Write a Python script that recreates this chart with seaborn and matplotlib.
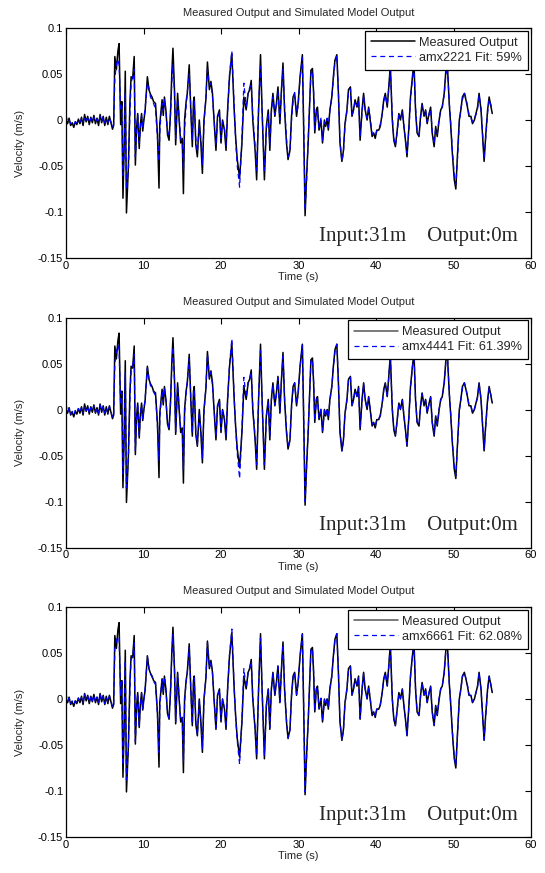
import matplotlib
matplotlib.use("Agg")
import matplotlib.pyplot as plt
import seaborn as sns
import pandas as pd

# time (s) of the points
time = [0.0, 0.2, 0.4, 0.6, 0.8, 1.0, 1.2, 1.4, 1.6, 1.8,
        2.0, 2.2, 2.4, 2.6, 2.8, 3.0, 3.2, 3.4, 3.6, 3.8,
        4.0, 4.2, 4.4, 4.6, 4.8, 5.0, 5.2, 5.4, 5.6, 5.8,
        6.0, 6.15, 6.3, 6.5, 6.7, 6.85, 7.05, 7.2, 7.35, 7.5,
        7.65, 7.8, 8.05, 8.25, 8.4, 8.6, 8.8, 8.95, 9.1, 9.25,
        9.45, 9.6, 9.75, 9.9, 10.05, 10.2, 10.5, 10.7, 10.9, 11.1,
        11.3, 11.55, 11.8, 12.0, 12.1, 12.25, 12.4, 12.55, 12.7, 12.9,
        13.1, 13.3, 13.5, 13.65, 13.8, 14.0, 14.15, 14.4, 14.6, 14.8,
        15.0, 15.15, 15.3, 15.5, 15.65, 15.9, 16.1, 16.3, 16.45, 16.55,
        16.75, 16.95, 17.2, 17.4, 17.6, 17.8, 18.05, 18.25, 18.5, 18.7,
        18.9, 19.1, 19.35, 19.55, 19.8, 20.0, 20.2, 20.45, 20.65, 20.85,
        21.1, 21.4, 21.7, 21.9, 22.1, 22.4, 22.7, 22.95, 23.25, 23.5,
        23.7, 23.9, 24.1, 24.4, 24.6, 24.85, 25.1, 25.3, 25.6, 25.85,
        26.1, 26.3, 26.5, 26.7, 26.95, 27.15, 27.35, 27.6, 27.8, 28.0,
        28.2, 28.45, 28.65, 28.9, 29.1, 29.3, 29.5, 29.75, 29.95, 30.2,
        30.5, 30.7, 30.85, 31.05, 31.25, 31.6, 31.8, 31.95, 32.1, 32.3,
        32.45, 32.65, 32.9, 33.1, 33.35, 33.5, 33.7, 33.85, 34.05, 34.3,
        34.5, 34.7, 34.95, 35.15, 35.35, 35.6, 35.8, 36.0, 36.25, 36.45,
        36.7, 36.9, 37.1, 37.3, 37.55, 37.75, 37.95, 38.2, 38.4, 38.6,
        38.85, 39.05, 39.25, 39.5, 39.7, 39.9, 40.1, 40.35, 40.55, 40.8,
        41.0, 41.2, 41.45, 41.65, 41.85, 42.1, 42.3, 42.5, 42.7, 42.95,
        43.15, 43.4, 43.6, 43.8, 44.0, 44.25, 44.45, 44.7, 44.9, 45.1,
        45.3, 45.55, 45.75, 45.95, 46.2, 46.4, 46.6, 46.85, 47.05, 47.25,
        47.5, 47.7, 47.9, 48.15, 48.35, 48.55, 48.8, 49.0, 49.2, 49.45,
        49.65, 49.85, 50.1, 50.3, 50.5, 50.75, 50.95, 51.15, 51.4, 51.6,
        51.8, 52.0, 52.25, 52.45, 52.7, 52.9, 53.1, 53.3, 53.55, 53.75,
        53.95, 54.15, 54.4, 54.6, 54.85, 55.0]

measured = [0.000, -0.004, 0.002, -0.006, -0.003, -0.008, -0.002, -0.005, 0.001, -0.004,
            0.003, -0.006, 0.006, -0.002, 0.004, -0.005, 0.003, -0.003, 0.005, -0.004,
            0.002, -0.006, 0.006, -0.003, 0.004, -0.006, 0.003, -0.005, 0.004, -0.003,
            -0.010, -0.006, 0.069, 0.055, 0.075, 0.083, -0.005, 0.020, -0.085, -0.030,
            0.053, -0.101, -0.051, 0.020, 0.047, 0.045, 0.069, -0.049, -0.010, 0.007,
            -0.031, -0.005, 0.007, -0.012, 0.000, 0.009, 0.047, 0.033, 0.028, 0.025,
            0.020, 0.018, -0.015, -0.074, -0.004, 0.009, 0.022, 0.005, 0.025, 0.010,
            -0.016, -0.022, 0.011, 0.050, 0.078, 0.032, -0.027, 0.029, 0.000, -0.025,
            -0.020, -0.080, 0.000, 0.020, 0.029, 0.060, 0.011, -0.029, 0.020, 0.025,
            -0.027, -0.040, 0.000, -0.025, -0.058, 0.000, 0.022, 0.063, 0.033, 0.042,
            0.029, 0.000, -0.033, 0.004, 0.011, -0.025, 0.000, -0.011, -0.033, 0.011,
            0.047, 0.072, 0.011, -0.020, -0.043, -0.063, -0.025, 0.025, 0.011, 0.029,
            0.033, 0.043, 0.000, -0.033, -0.065, 0.011, 0.071, 0.011, -0.065, -0.007,
            0.011, -0.033, 0.011, 0.029, 0.004, 0.018, 0.036, -0.004, 0.033, 0.062,
            0.011, -0.025, -0.043, -0.033, 0.004, 0.025, 0.029, 0.004, 0.018, 0.047,
            0.071, -0.025, -0.104, -0.060, -0.025, 0.054, 0.056, 0.029, -0.014, 0.011,
            0.014, -0.011, 0.000, -0.025, 0.000, -0.007, 0.000, -0.011, 0.011, 0.025,
            0.047, 0.065, 0.071, 0.029, -0.025, -0.045, -0.033, -0.004, 0.011, 0.033,
            0.036, 0.004, 0.011, 0.022, 0.014, 0.025, -0.022, 0.011, 0.029, 0.011,
            0.000, 0.014, 0.000, -0.018, -0.014, -0.020, -0.011, -0.011, -0.007, 0.007,
            0.022, 0.029, 0.014, 0.036, 0.060, 0.000, -0.022, -0.029, -0.014, 0.007,
            0.000, 0.011, -0.007, -0.022, -0.040, -0.007, 0.025, 0.047, 0.062, 0.011,
            -0.014, -0.018, 0.004, 0.018, 0.004, 0.011, -0.004, 0.007, 0.014, -0.014,
            -0.029, -0.007, -0.018, 0.000, 0.011, 0.014, 0.029, 0.052, 0.062, 0.018,
            -0.007, -0.036, -0.065, -0.075, -0.040, 0.000, 0.011, 0.025, 0.029, 0.022,
            0.014, 0.004, 0.004, -0.004, 0.000, 0.007, 0.014, 0.029, 0.011, -0.018,
            -0.045, -0.018, 0.011, 0.025, 0.014, 0.007]

sim_2221 = [0.005, -0.002, 0.000, -0.004, -0.003, -0.005, -0.002, -0.003, 0.000, -0.002,
            0.001, -0.003, 0.003, 0.000, 0.002, -0.003, 0.002, -0.002, 0.003, -0.002,
            0.001, -0.003, 0.004, -0.001, 0.003, -0.003, 0.002, -0.003, 0.002, -0.002,
            -0.008, -0.004, 0.045, 0.060, 0.066, 0.060, 0.010, 0.015, -0.060, -0.040,
            0.030, -0.075, -0.055, 0.010, 0.040, 0.048, 0.055, -0.040, -0.015, 0.005,
            -0.025, -0.008, 0.004, -0.008, 0.002, 0.012, 0.040, 0.035, 0.025, 0.022,
            0.018, 0.012, -0.020, -0.045, -0.015, 0.005, 0.018, 0.010, 0.022, 0.008,
            -0.012, -0.018, 0.008, 0.040, 0.060, 0.030, -0.020, 0.022, 0.003, -0.020,
            -0.025, -0.055, -0.010, 0.015, 0.030, 0.050, 0.015, -0.022, 0.012, 0.020,
            -0.020, -0.035, -0.005, -0.020, -0.048, -0.005, 0.025, 0.055, 0.038, 0.040,
            0.025, 0.002, -0.028, 0.000, 0.008, -0.020, -0.002, -0.010, -0.028, 0.008,
            0.050, 0.075, 0.015, -0.025, -0.050, -0.073, -0.020, 0.040, 0.015, 0.030,
            0.035, 0.038, 0.005, -0.028, -0.055, 0.015, 0.058, 0.010, -0.055, -0.010,
            0.008, -0.028, 0.008, 0.025, 0.006, 0.015, 0.032, 0.000, 0.030, 0.055,
            0.015, -0.020, -0.040, -0.035, 0.000, 0.020, 0.030, 0.008, 0.015, 0.045,
            0.068, -0.020, -0.098, -0.065, -0.020, 0.050, 0.054, 0.030, -0.010, 0.008,
            0.010, -0.008, 0.002, -0.022, -0.002, -0.005, 0.002, -0.008, 0.010, 0.025,
            0.045, 0.062, 0.070, 0.030, -0.022, -0.045, -0.035, -0.006, 0.010, 0.030,
            0.034, 0.006, 0.010, 0.020, 0.016, 0.022, -0.018, 0.008, 0.027, 0.012,
            0.002, 0.012, 0.002, -0.015, -0.016, -0.018, -0.012, -0.009, -0.005, 0.006,
            0.020, 0.027, 0.016, 0.034, 0.056, 0.004, -0.020, -0.028, -0.016, 0.005,
            0.002, 0.009, -0.006, -0.020, -0.036, -0.010, 0.022, 0.045, 0.058, 0.014,
            -0.012, -0.016, 0.002, 0.016, 0.006, 0.010, -0.002, 0.006, 0.012, -0.012,
            -0.026, -0.010, -0.015, 0.002, 0.010, 0.015, 0.027, 0.048, 0.058, 0.020,
            -0.005, -0.032, -0.060, -0.070, -0.045, -0.004, 0.012, 0.022, 0.030, 0.024,
            0.016, 0.006, 0.002, -0.002, 0.002, 0.006, 0.012, 0.027, 0.013, -0.015,
            -0.042, -0.020, 0.008, 0.022, 0.016, 0.010]

sim_4441 = [0.006, -0.003, 0.001, -0.005, -0.002, -0.006, -0.001, -0.004, 0.001, -0.003,
            0.002, -0.004, 0.004, -0.001, 0.003, -0.004, 0.002, -0.002, 0.004, -0.003,
            0.001, -0.004, 0.005, -0.002, 0.003, -0.004, 0.002, -0.004, 0.003, -0.002,
            -0.009, -0.005, 0.050, 0.062, 0.070, 0.065, 0.005, 0.018, -0.070, -0.035,
            0.040, -0.085, -0.052, 0.012, 0.042, 0.046, 0.060, -0.045, -0.012, 0.006,
            -0.028, -0.006, 0.005, -0.010, 0.001, 0.010, 0.045, 0.034, 0.026, 0.024,
            0.019, 0.015, -0.018, -0.055, -0.010, 0.007, 0.020, 0.008, 0.024, 0.009,
            -0.014, -0.020, 0.010, 0.045, 0.068, 0.031, -0.024, 0.026, 0.002, -0.022,
            -0.022, -0.065, -0.005, 0.018, 0.030, 0.055, 0.013, -0.026, 0.016, 0.022,
            -0.024, -0.038, -0.003, -0.022, -0.053, -0.003, 0.024, 0.060, 0.035, 0.041,
            0.027, 0.001, -0.030, 0.002, 0.010, -0.022, -0.001, -0.011, -0.030, 0.010,
            0.049, 0.077, 0.013, -0.022, -0.048, -0.075, -0.022, 0.035, 0.013, 0.030,
            0.034, 0.040, 0.003, -0.030, -0.060, 0.013, 0.064, 0.011, -0.060, -0.008,
            0.010, -0.030, 0.010, 0.027, 0.005, 0.016, 0.034, -0.002, 0.031, 0.058,
            0.013, -0.022, -0.041, -0.034, 0.002, 0.022, 0.029, 0.006, 0.016, 0.046,
            0.070, -0.022, -0.100, -0.062, -0.022, 0.052, 0.055, 0.030, -0.012, 0.010,
            0.012, -0.009, 0.001, -0.023, -0.001, -0.006, 0.001, -0.009, 0.010, 0.025,
            0.046, 0.063, 0.071, 0.030, -0.023, -0.045, -0.034, -0.005, 0.010, 0.031,
            0.035, 0.005, 0.010, 0.021, 0.015, 0.023, -0.020, 0.009, 0.028, 0.011,
            0.001, 0.013, 0.001, -0.016, -0.015, -0.019, -0.011, -0.010, -0.006, 0.006,
            0.021, 0.028, 0.015, 0.035, 0.058, 0.002, -0.021, -0.028, -0.015, 0.006,
            0.001, 0.010, -0.006, -0.021, -0.038, -0.008, 0.023, 0.046, 0.060, 0.012,
            -0.013, -0.017, 0.003, 0.017, 0.005, 0.010, -0.003, 0.006, 0.013, -0.013,
            -0.027, -0.008, -0.016, 0.001, 0.010, 0.014, 0.028, 0.050, 0.060, 0.019,
            -0.006, -0.034, -0.062, -0.072, -0.042, -0.002, 0.011, 0.023, 0.029, 0.023,
            0.015, 0.005, 0.003, -0.003, 0.001, 0.006, 0.013, 0.028, 0.012, -0.016,
            -0.043, -0.019, 0.009, 0.023, 0.015, 0.008]

sim_6661 = [0.006, -0.003, 0.001, -0.005, -0.002, -0.006, -0.002, -0.004, 0.001, -0.003,
            0.002, -0.005, 0.005, -0.001, 0.003, -0.004, 0.003, -0.002, 0.004, -0.003,
            0.002, -0.005, 0.005, -0.002, 0.003, -0.005, 0.002, -0.004, 0.003, -0.002,
            -0.009, -0.005, 0.055, 0.063, 0.068, 0.066, 0.004, 0.019, -0.072, -0.034,
            0.042, -0.088, -0.053, 0.013, 0.043, 0.047, 0.061, -0.046, -0.011, 0.006,
            -0.029, -0.006, 0.006, -0.011, 0.000, 0.010, 0.046, 0.034, 0.027, 0.024,
            0.019, 0.016, -0.017, -0.058, -0.009, 0.008, 0.021, 0.007, 0.024, 0.009,
            -0.015, -0.021, 0.010, 0.046, 0.070, 0.031, -0.025, 0.027, 0.001, -0.023,
            -0.021, -0.068, -0.004, 0.019, 0.029, 0.056, 0.012, -0.027, 0.017, 0.023,
            -0.025, -0.039, -0.002, -0.023, -0.054, -0.002, 0.023, 0.061, 0.034, 0.041,
            0.028, 0.001, -0.031, 0.003, 0.010, -0.023, 0.000, -0.011, -0.031, 0.010,
            0.048, 0.076, 0.012, -0.021, -0.046, -0.071, -0.023, 0.033, 0.012, 0.030,
            0.034, 0.041, 0.002, -0.031, -0.062, 0.012, 0.066, 0.011, -0.061, -0.008,
            0.010, -0.031, 0.010, 0.028, 0.005, 0.017, 0.035, -0.003, 0.032, 0.059,
            0.012, -0.023, -0.042, -0.034, 0.003, 0.023, 0.029, 0.005, 0.017, 0.046,
            0.070, -0.023, -0.101, -0.061, -0.023, 0.053, 0.055, 0.029, -0.013, 0.010,
            0.013, -0.010, 0.001, -0.024, -0.001, -0.006, 0.001, -0.010, 0.011, 0.025,
            0.046, 0.064, 0.071, 0.029, -0.024, -0.045, -0.034, -0.005, 0.011, 0.032,
            0.035, 0.005, 0.011, 0.021, 0.015, 0.024, -0.021, 0.010, 0.028, 0.011,
            0.001, 0.013, 0.001, -0.017, -0.015, -0.019, -0.011, -0.010, -0.006, 0.007,
            0.021, 0.028, 0.015, 0.035, 0.059, 0.001, -0.021, -0.029, -0.015, 0.006,
            0.001, 0.010, -0.007, -0.021, -0.039, -0.008, 0.024, 0.046, 0.061, 0.012,
            -0.013, -0.017, 0.003, 0.017, 0.005, 0.011, -0.003, 0.007, 0.013, -0.013,
            -0.028, -0.008, -0.017, 0.001, 0.011, 0.014, 0.028, 0.051, 0.061, 0.018,
            -0.006, -0.035, -0.063, -0.073, -0.041, -0.001, 0.011, 0.024, 0.029, 0.022,
            0.015, 0.005, 0.003, -0.003, 0.001, 0.007, 0.013, 0.028, 0.011, -0.017,
            -0.044, -0.019, 0.010, 0.024, 0.015, 0.008]

model_names = ["amx2221 Fit: 59%", "amx4441 Fit: 61.39%", "amx6661 Fit: 62.08%"]
models = [sim_2221, sim_4441, sim_6661]
meas_legend_colors = ["black", "#555555", "#555555"]

sns.set_style("white")
plt.rcParams['font.family'] = ['Liberation Sans', 'DejaVu Sans']
plt.rcParams['axes.unicode_minus'] = False

W, H = 545, 873
fig = plt.figure(figsize=(W / 100, H / 100), dpi=100)
tops = [28, 317.5, 607]

for top, name, sim, lc in zip(tops, model_names, models, meas_legend_colors):
    ax = fig.add_axes([66 / W, 1 - (top + 230) / H, 465 / W, 230 / H])
    df = pd.DataFrame({"t": time, "meas": measured, "sim": sim})
    sns.lineplot(data=df, x="t", y="meas", ax=ax, color="black", lw=1.1,
                 estimator=None, sort=False, label="Measured Output")
    sns.lineplot(data=df, x="t", y="sim", ax=ax, color="blue", lw=0.9,
                 linestyle=(0, (4, 3)), estimator=None, sort=False, label=name)

    ax.set_xlim(0, 60)
    ax.set_ylim(-0.15, 0.1)
    ax.set_xticks([0, 10, 20, 30, 40, 50, 60])
    ax.set_yticks([-0.15, -0.1, -0.05, 0, 0.05, 0.1])
    ax.set_yticklabels(["-0.15", "-0.1", "-0.05", "0", "0.05", "0.1"])
    ax.tick_params(direction="in", top=True, right=True, length=4, width=0.8,
                   labelsize=8, pad=2, colors="black")
    for sp in ax.spines.values():
        sp.set_color("black")
        sp.set_linewidth(0.9)

    ax.set_title("Measured Output and Simulated Model Output", fontsize=8, pad=9)
    ax.set_xlabel("Time (s)", fontsize=8, labelpad=1)
    ax.set_ylabel("Velocity (m/s)", fontsize=8, labelpad=9)

    leg = ax.legend(loc="upper right", fontsize=9.2, frameon=True, fancybox=False,
                    edgecolor="black", framealpha=1, handlelength=3.4,
                    borderaxespad=0.2, borderpad=0.5, labelspacing=0.2,
                    handletextpad=0.35)
    leg.get_frame().set_linewidth(0.9)
    leg.get_lines()[0].set_color(lc)

    ax.text(0.972, 0.074, "Input:31m    Output:0m", transform=ax.transAxes,
            ha="right", va="baseline", fontsize=15, family="Liberation Serif")

fig.savefig("out.png", dpi=100)
